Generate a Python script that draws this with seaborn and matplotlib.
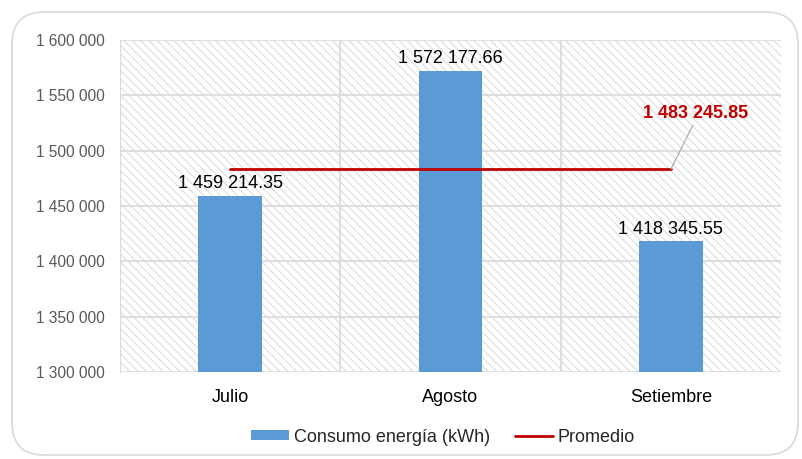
import numpy as np
import pandas as pd
import seaborn as sns
import matplotlib.pyplot as plt
from matplotlib.patches import Rectangle, Patch, FancyBboxPatch
from matplotlib.lines import Line2D
from matplotlib.ticker import FuncFormatter

meses = ['Julio', 'Agosto', 'Setiembre']
consumo = [1459214.35, 1572177.66, 1418345.55]
promedio = 1483245.85
yticks = [1300000, 1350000, 1400000, 1450000, 1500000, 1550000, 1600000]

df = pd.DataFrame({'mes': meses, 'consumo': consumo})

sns.set_style('white')
plt.rcParams['font.family'] = ['Liberation Sans', 'DejaVu Sans']
plt.rcParams['hatch.color'] = '#DCDCDC'
plt.rcParams['hatch.linewidth'] = 0.8

fig = plt.figure(figsize=(8.02, 4.59), dpi=100)
ax = fig.add_axes([120 / 802, 1 - 372 / 459, 661 / 802, 332 / 459])

# outer rounded frame
frame = FancyBboxPatch((12 / 802, 4 / 459), 786 / 802, 443 / 459,
                       boxstyle='round,pad=0,rounding_size=0.04',
                       transform=fig.transFigure, facecolor='none',
                       edgecolor='#D9D9D9', linewidth=1.2, mutation_aspect=802 / 459)
fig.patches.append(frame)

# hatched background
ax.add_patch(Rectangle((0, 0), 1, 1, transform=ax.transAxes, facecolor='white',
                       hatch='\\\\\\\\', edgecolor='#DCDCDC', linewidth=0, zorder=0))

sns.barplot(data=df, x='mes', y='consumo', color='#5B9BD5', width=0.29,
            saturation=1, linewidth=0, ax=ax, zorder=3)

ax.set_ylim(1300000, 1600000)
ax.set_xlim(-0.5, 2.5)
ax.set_yticks(yticks)
ax.yaxis.set_major_formatter(FuncFormatter(lambda v, p: f'{int(v):,}'.replace(',', ' ')))
for yv in yticks:
    ax.axhline(yv, color='#D9D9D9', linewidth=1.2, zorder=1)
for xv in [0.5, 1.5]:
    ax.axvline(xv, color='#D9D9D9', linewidth=1.2, zorder=1)

for s in ['top', 'right', 'bottom']:
    ax.spines[s].set_visible(False)
ax.spines['left'].set_color('#D9D9D9')
ax.tick_params(axis='y', labelsize=11.2, colors='#595959', length=0, pad=11)
ax.tick_params(axis='x', labelsize=13, colors='black', length=0, pad=12)
ax.set_xlabel('')
ax.set_ylabel('')

for i, v in enumerate(consumo):
    ax.text(i, v + 3000, f'{v:,.2f}'.replace(',', ' '), ha='center', va='bottom',
            fontsize=13, color='black', zorder=5)

ax.plot([0, 2], [promedio, promedio], color='#C00000', linewidth=2, zorder=4)
ax.plot([2.0, 2.1], [promedio, 1523000], color='#A6A6A6', linewidth=0.8, zorder=4)
ax.text(2.11, 1526000, f'{promedio:,.2f}'.replace(',', ' '), ha='center', va='bottom',
        fontsize=13, color='#C00000', fontweight='bold', zorder=5)

handles = [Patch(facecolor='#5B9BD5', edgecolor='none'),
           Line2D([0], [0], color='#C00000', linewidth=2)]
fig.legend(handles, ['Consumo energía (kWh)', 'Promedio'], loc='center',
           bbox_to_anchor=(443 / 802, 1 - 437 / 459), ncol=2, frameon=False, fontsize=13,
           handlelength=2.1, handleheight=0.45, handletextpad=0.25, columnspacing=1.4)

fig.savefig('out.png', dpi=100)
